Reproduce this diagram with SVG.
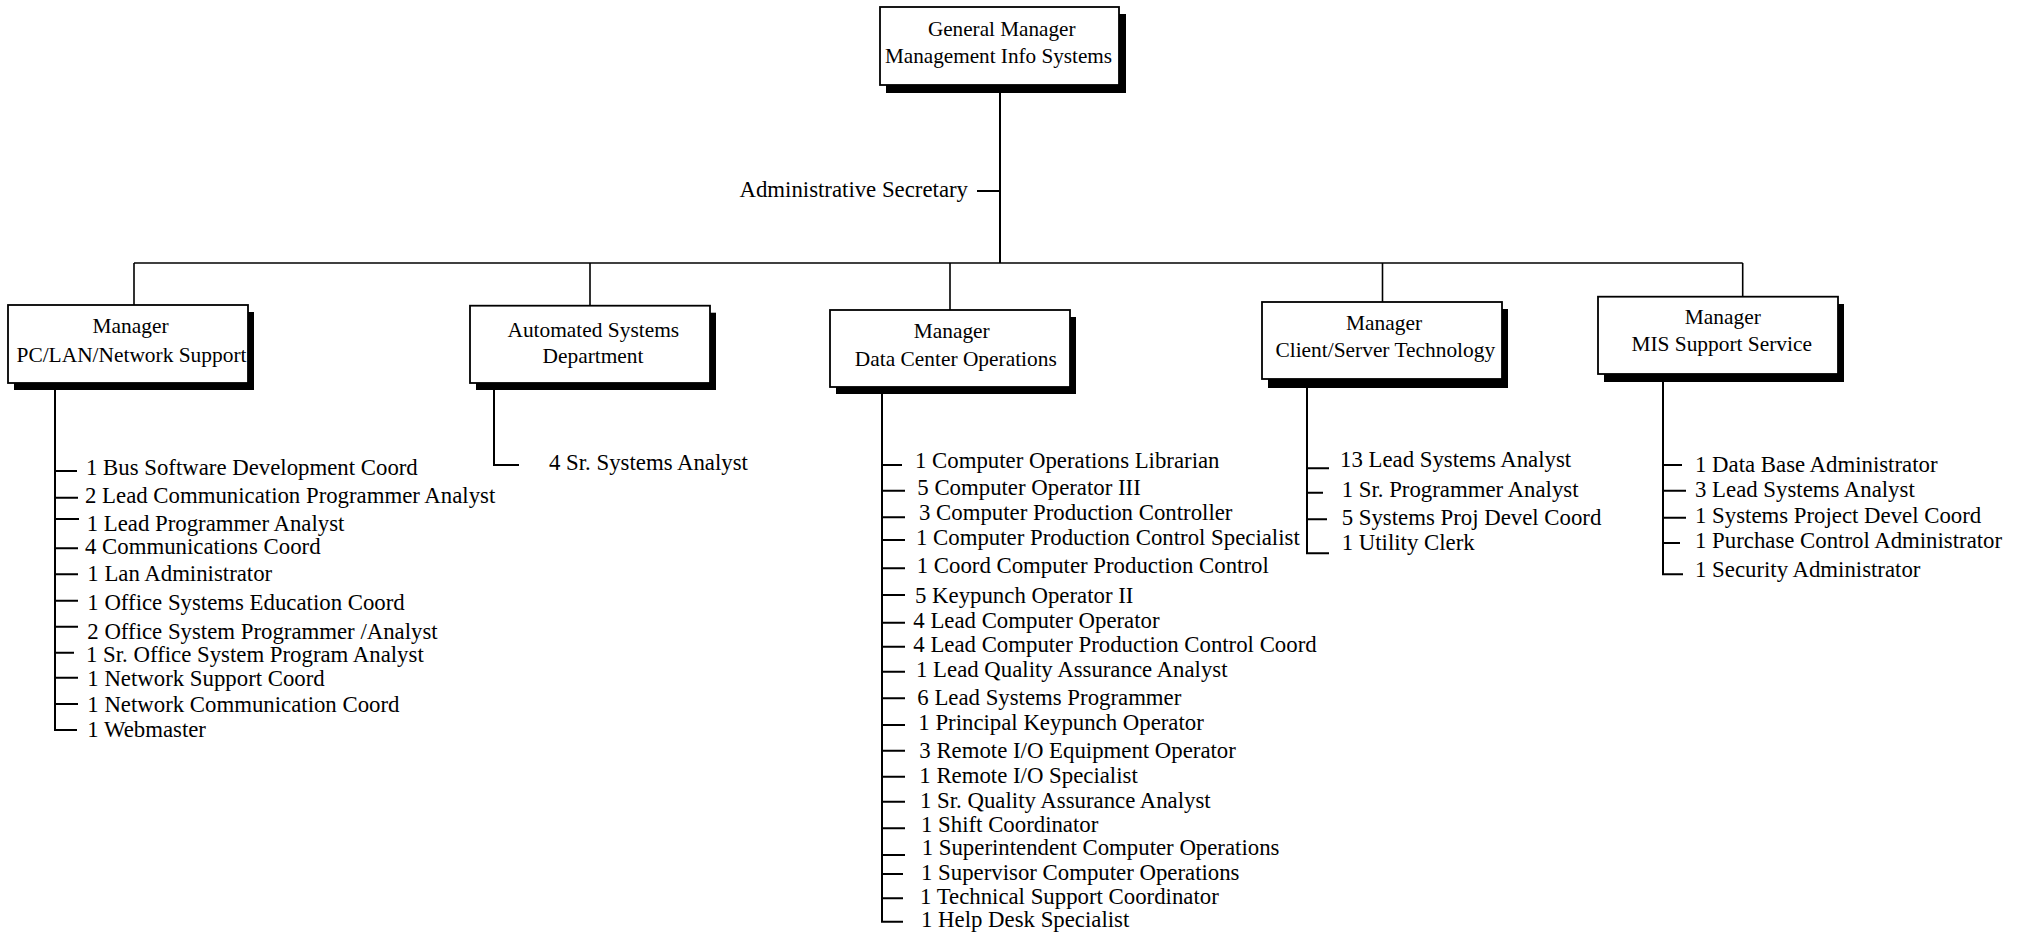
<svg xmlns="http://www.w3.org/2000/svg" width="2018" height="934" viewBox="0 0 2018 934">
<style>
.bg{fill:#fff}
.shadow{fill:#000}
.box{fill:#fff;stroke:#000;stroke-width:1.8}
.ln{stroke:#000;stroke-width:2;fill:none}
.bus{stroke:#000;stroke-width:1.6;fill:none}
text{font-family:"Liberation Serif","Times New Roman",serif;fill:#000}
.t{font-size:22.8px}
.bt{font-size:21.4px;text-anchor:middle}
.tt{font-size:21.2px;text-anchor:middle}
</style>
<rect class="bg" x="0" y="0" width="2018" height="934"/>

<g id="connectors">
  <path class="ln" d="M1000,85 V263"/>
  <path class="ln" d="M977,191 H1000"/>
  <path class="bus" d="M134,263 H1742.7"/>
  <path class="bus" d="M134,263 V305 M590,263 V305.7 M950,263 V310 M1382.5,263 V302 M1742.7,263 V297"/>
  <path class="ln" d="M55,390 V730 H77 M55,471 H77 M55,497.7 H78 M55,519 H79 M55,548.3 H78 M55,574.3 H78 M55,600.7 H78 M55,626.7 H78 M55,652.7 H74 M55,677.7 H78 M55,704 H78"/>
  <path class="ln" d="M494,390 V465 H519"/>
  <path class="ln" d="M882,394 V921.7 H903 M882,465 H902 M882,490.7 H905 M882,517.3 H905 M882,540 H905 M882,568.3 H905 M882,595 H905 M882,622.7 H905 M882,646.7 H905 M882,671.7 H905 M882,698.3 H905 M882,725 H905 M882,750.7 H905 M882,776.7 H905 M882,801.7 H905 M882,828.3 H905 M882,855 H905 M882,874 H903 M882,898.3 H903"/>
  <path class="ln" d="M1307,388 V553.3 H1329 M1307,468.3 H1329 M1307,492.7 H1323 M1307,519.3 H1327"/>
  <path class="ln" d="M1663,382 V574.3 H1683 M1663,465 H1682 M1663,490.7 H1686 M1663,517.7 H1686 M1663,543 H1680"/>
</g>

<g id="gm">
  <rect class="shadow" x="886" y="14" width="240" height="79"/>
  <rect class="box" x="880" y="7" width="239" height="78"/>
  <text class="tt" x="1001.7" y="36">General Manager</text>
  <text class="tt" x="998.5" y="62.7">Management Info Systems</text>
</g>

<g id="secretary">
  <text class="t" x="968" y="197" text-anchor="end">Administrative Secretary</text>
</g>

<g id="pclan">
  <rect class="shadow" x="14" y="312" width="240" height="78"/>
  <rect class="box" x="8" y="305" width="240" height="78"/>
  <text class="bt" x="130.5" y="333.3">Manager</text>
  <text class="bt" x="131.5" y="361.7">PC/LAN/Network Support</text>
</g>
<g id="pclan-staff">
  <text class="t" x="86" y="475">1 Bus Software Development Coord</text>
  <text class="t" x="85" y="502.7">2 Lead Communication Programmer Analyst</text>
  <text class="t" x="86.7" y="530.7">1 Lead Programmer Analyst</text>
  <text class="t" x="85" y="554">4 Communications Coord</text>
  <text class="t" x="87.3" y="580.7">1 Lan Administrator</text>
  <text class="t" x="87.3" y="610">1 Office Systems Education Coord</text>
  <text class="t" x="87.3" y="638.7">2 Office System Programmer /Analyst</text>
  <text class="t" x="86" y="662.3">1 Sr. Office System Program Analyst</text>
  <text class="t" x="87.3" y="686">1 Network Support Coord</text>
  <text class="t" x="87.3" y="711.7">1 Network Communication Coord</text>
  <text class="t" x="87.3" y="736.7">1 Webmaster</text>
</g>

<g id="asd">
  <rect class="shadow" x="476" y="312.7" width="240" height="77.3"/>
  <rect class="box" x="470" y="305.7" width="240" height="77.3"/>
  <text class="bt" x="593.3" y="336.7">Automated Systems</text>
  <text class="bt" x="593" y="363.3">Department</text>
</g>
<g id="asd-staff">
  <text class="t" x="549" y="470">4 Sr. Systems Analyst</text>
</g>

<g id="dco">
  <rect class="shadow" x="836" y="317" width="240" height="77"/>
  <rect class="box" x="830" y="310" width="240" height="77"/>
  <text class="bt" x="951.7" y="338.3">Manager</text>
  <text class="bt" x="955.8" y="366">Data Center Operations</text>
</g>
<g id="dco-staff">
  <text class="t" x="915" y="468.3">1 Computer Operations Librarian</text>
  <text class="t" x="917.3" y="495">5 Computer Operator III</text>
  <text class="t" x="919" y="520">3 Computer Production Controller</text>
  <text class="t" x="916" y="545">1 Computer Production Control Specialist</text>
  <text class="t" x="916.7" y="572.7">1 Coord Computer Production Control</text>
  <text class="t" x="915" y="603.3">5 Keypunch Operator II</text>
  <text class="t" x="913.3" y="628.3">4 Lead Computer Operator</text>
  <text class="t" x="913.3" y="651.7">4 Lead Computer Production Control Coord</text>
  <text class="t" x="916" y="677.3">1 Lead Quality Assurance Analyst</text>
  <text class="t" x="917.3" y="705">6 Lead Systems Programmer</text>
  <text class="t" x="918.3" y="730">1 Principal Keypunch Operator</text>
  <text class="t" x="919.3" y="758.3">3 Remote I/O Equipment Operator</text>
  <text class="t" x="919.3" y="783.3">1 Remote I/O Specialist</text>
  <text class="t" x="920" y="807.7">1 Sr. Quality Assurance Analyst</text>
  <text class="t" x="921" y="831.7">1 Shift Coordinator</text>
  <text class="t" x="921.7" y="855">1 Superintendent Computer Operations</text>
  <text class="t" x="921" y="880">1 Supervisor Computer Operations</text>
  <text class="t" x="920" y="904.3">1 Technical Support Coordinator</text>
  <text class="t" x="921" y="926.7">1 Help Desk Specialist</text>
</g>

<g id="cst">
  <rect class="shadow" x="1268" y="309" width="240" height="79"/>
  <rect class="box" x="1262" y="302" width="240" height="77"/>
  <text class="bt" x="1384" y="330">Manager</text>
  <text class="bt" x="1385.3" y="356.7">Client/Server Technology</text>
</g>
<g id="cst-staff">
  <text class="t" x="1340" y="467">13 Lead Systems Analyst</text>
  <text class="t" x="1341.7" y="497">1 Sr. Programmer Analyst</text>
  <text class="t" x="1341.7" y="525">5 Systems Proj Devel Coord</text>
  <text class="t" x="1341.7" y="550">1 Utility Clerk</text>
</g>

<g id="mis">
  <rect class="shadow" x="1604" y="304" width="240" height="78"/>
  <rect class="box" x="1598" y="296.7" width="240" height="77.3"/>
  <text class="bt" x="1722.8" y="324.3">Manager</text>
  <text class="bt" x="1721.7" y="351">MIS Support Service</text>
</g>
<g id="mis-staff">
  <text class="t" x="1695" y="472">1 Data Base Administrator</text>
  <text class="t" x="1695" y="497">3 Lead Systems Analyst</text>
  <text class="t" x="1695" y="523">1 Systems Project Devel Coord</text>
  <text class="t" x="1695" y="548">1 Purchase Control Administrator</text>
  <text class="t" x="1695" y="577">1 Security Administrator</text>
</g>
</svg>
